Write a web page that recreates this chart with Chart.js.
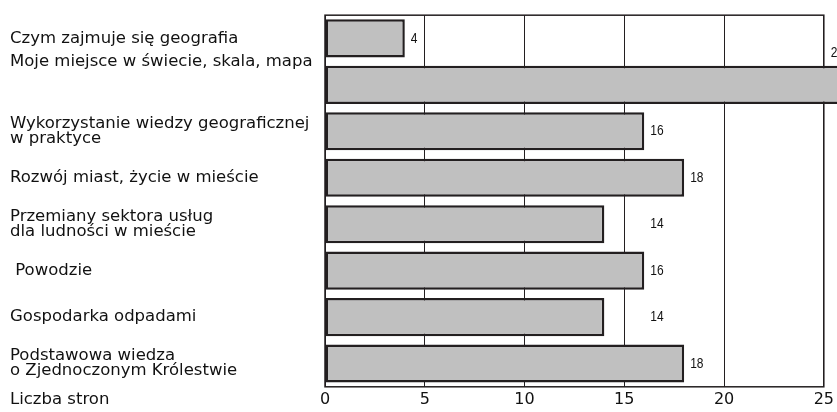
<!DOCTYPE html>
<html>
<head>
<meta charset="utf-8">
<script src="https://cdn.jsdelivr.net/npm/chart.js@4/dist/chart.umd.min.js"></script>
<style>
  html, body { margin: 0; padding: 0; background: #fff; }
  #wrap { width: 837px; height: 412px; }
</style>
</head>
<body>
<div id="wrap"><canvas id="myChart"></canvas></div>
<script>
const categories = [
  'Czym zajmuje się geografia',
  ['Moje miejsce w świecie, skala, mapa', '', '', ''],
  ['Wykorzystanie wiedzy geograficznej', 'w praktyce'],
  'Rozwój miast, życie w mieście',
  ['Przemiany sektora usług', 'dla ludności w mieście'],
  ' Powodzie',
  'Gospodarka odpadami',
  ['Podstawowa wiedza', 'o Zjednoczonym Królestwie'],
];
const pages = [4, 26, 16, 18, 14, 16, 14, 18];
const xTicks = [0, 5, 10, 15, 20, 25];
const axisTitle = 'Liczba stron';

const font = "'DejaVu Sans', 'Liberation Sans', sans-serif";
const numFont = "'Liberation Sans', Arial, sans-serif";

// frame round the plot, drawn under the bars
const framePlugin = {
  id: 'frame',
  beforeDatasetsDraw(chart) {
    const { ctx, chartArea: a } = chart;
    ctx.save();
    ctx.strokeStyle = '#231f20';
    ctx.lineWidth = 1.5;
    ctx.strokeRect(a.left, a.top, a.right - a.left, a.bottom - a.top);
    ctx.restore();
  },
  afterDraw(chart) {
    const { ctx, chartArea: a } = chart;
    ctx.save();
    ctx.font = '16.5px ' + font;
    ctx.fillStyle = '#111';
    ctx.textBaseline = 'middle';
    ctx.fillText(axisTitle, 10, a.bottom + 13);
    ctx.restore();
  }
};

// numbers next to the bars (narrow, like the original)
const valuePlugin = {
  id: 'values',
  afterDatasetsDraw(chart) {
    const { ctx, chartArea: a } = chart;
    const x = chart.scales.x;
    const meta = chart.getDatasetMeta(0);
    ctx.save();
    ctx.font = '15px ' + numFont;
    ctx.fillStyle = '#111';
    ctx.textBaseline = 'middle';
    meta.data.forEach((bar, i) => {
      const v = pages[i];
      let lx, ly;
      if (v > x.max) {
        lx = a.right + 7; ly = bar.y - 32;
      } else if (v > 10 && v < 16) {
        lx = x.getPixelForValue(16) + 6; ly = bar.y;
      } else {
        lx = bar.x + 6; ly = bar.y;
      }
      ctx.save();
      ctx.translate(lx, ly);
      ctx.scale(0.8, 1);
      ctx.fillText(String(v), 0, 0);
      ctx.restore();
    });
    ctx.restore();
  }
};

const data = {
  labels: categories,
  datasets: [{
    data: pages,
    backgroundColor: '#c0c0c0',
    borderColor: '#231f20',
    borderWidth: 2.5,
    borderSkipped: false,
    barPercentage: 0.82,
    categoryPercentage: 1.0,
    clip: false,
  }]
};

const config = {
  type: 'bar',
  data: data,
  options: {
    indexAxis: 'y',
    responsive: true,
    maintainAspectRatio: false,
    animation: false,
    layout: { padding: { top: 14, bottom: 0, left: 10, right: 11 } },
    plugins: {
      legend: { display: false },
      tooltip: { enabled: false },
    },
    scales: {
      x: {
        min: xTicks[0],
        max: xTicks[xTicks.length - 1],
        afterBuildTicks: (s) => { s.ticks = xTicks.map(v => ({ value: v })); },
        grid: { color: '#231f20', lineWidth: 1, drawTicks: false },
        border: { display: false },
        ticks: {
          color: '#111',
          padding: 3,
          font: { family: font, size: 16 },
          maxRotation: 0,
        },
      },
      y: {
        grid: { display: false, drawTicks: false },
        border: { display: false },
        afterFit: (s) => { s.width = 315; },
        ticks: {
          autoSkip: false,
          crossAlign: 'far',
          padding: 0,
          color: '#111',
          font: { family: font, size: 16.5, lineHeight: 0.92 },
        },
      },
    }
  },
  plugins: [framePlugin, valuePlugin],
};

const myChart = new Chart(
  document.getElementById('myChart'),
  config
);
</script>
</body>
</html>
